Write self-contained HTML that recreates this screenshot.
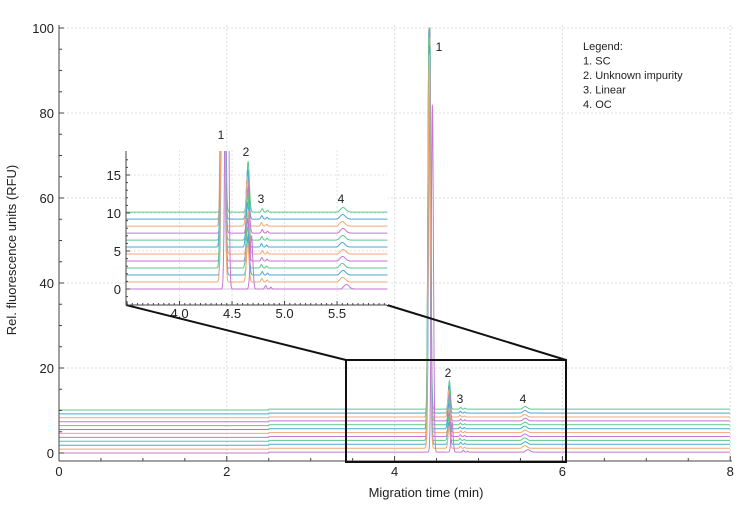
<!DOCTYPE html>
<html><head><meta charset="utf-8"><style>
body{margin:0;background:#fff;}
svg{display:block;font-family:"Liberation Sans",sans-serif;}
</style></head><body>
<svg id="s" width="750" height="506" viewBox="0 0 750 506"></svg>
<script>
const s=document.getElementById('s');
const cols=['#c576d6','#f2a878','#4aa8d8','#5cc98c'];
function sig(t,i){
  let sh=(i==0)?0.04:(i%3)*0.004;
  let off=i*0.92;
  let v=off;
  let h1=(i==0)?82:(92+(i%4));
  v+=h1*Math.exp(-Math.pow((t-4.41-sh)/0.018,2));
  let h2=(i==0)?7:(5+i*0.15);
  v+=h2*Math.exp(-Math.pow((t-4.645-sh)/0.017,2));
  v+=0.45*Math.exp(-Math.pow((t-4.78-sh)/0.012,2));
  v+=0.25*Math.exp(-Math.pow((t-4.83-sh)/0.01,2));
  v+=0.6*Math.exp(-Math.pow((t-5.55-sh)/0.035,2))*(t>5.52+sh?1:Math.exp(-Math.pow((t-5.52-sh)/0.02,2)));
  if(t>2.5) v+=0.2;
  return v;
}
let h='';
const mx=t=>59+t*83.9, my=v=>453-v*4.25;
for(let t=2;t<=8;t+=2)h+=`<line x1="${mx(t)}" y1="25" x2="${mx(t)}" y2="461" stroke="#ddd" stroke-dasharray="2,2"/>`;
for(let v=20;v<=100;v+=20)h+=`<line x1="59" y1="${my(v)}" x2="735" y2="${my(v)}" stroke="#ddd" stroke-dasharray="2,2"/>`;
for(let i=11;i>=0;i--){let p='';for(let t=0;t<=8;t+=0.003){p+=(p?'L':'M')+mx(t).toFixed(1)+','+my(Math.min(sig(t,i),100)).toFixed(1);}
h+=`<path d="${p}" fill="none" stroke="${cols[i%4]}" stroke-width="1"/>`;}
h+=`<line x1="59" y1="25" x2="59" y2="461" stroke="#444"/><line x1="59" y1="461" x2="732" y2="461" stroke="#444"/>`;
for(let t=0;t<=8;t+=0.5)h+=`<line x1="${mx(t)}" y1="461" x2="${mx(t)}" y2="${t%2==0?456:458}" stroke="#444"/>`;
for(let v=0;v<=100;v+=5)h+=`<line x1="59" y1="${my(v)}" x2="${v%20==0?64:62}" y2="${my(v)}" stroke="#444"/>`;
for(let t=0;t<=8;t+=2)h+=`<text x="${mx(t)}" y="476" font-size="13" text-anchor="middle" fill="#222">${t}</text>`;
for(let v=0;v<=100;v+=20)h+=`<text x="54" y="${my(v)+5}" font-size="13" text-anchor="end" fill="#222">${v}</text>`;
h+=`<text x="426" y="497" font-size="13" text-anchor="middle" fill="#222">Migration time (min)</text>`;
h+=`<text transform="translate(16,250) rotate(-90)" font-size="13" text-anchor="middle" fill="#222">Rel. fluorescence units (RFU)</text>`;
h+=`<rect x="346" y="360" width="220" height="102" fill="none" stroke="#111" stroke-width="2"/>`;
h+=`<line x1="126" y1="305" x2="346" y2="360" stroke="#111" stroke-width="2"/><line x1="387" y1="305" x2="566" y2="360" stroke="#111" stroke-width="2"/>`;
const ix=t=>126+(t-3.49)*105, iy=v=>289-v*7.6;
h+=`<rect x="126" y="150" width="262" height="155" fill="#fff"/>`;
for(let t=4;t<=5.5;t+=0.5)h+=`<line x1="${ix(t)}" y1="150" x2="${ix(t)}" y2="305" stroke="#e2e2e2" stroke-dasharray="2,2"/>`;
for(let v=0;v<=15;v+=5)h+=`<line x1="126" y1="${iy(v)}" x2="387" y2="${iy(v)}" stroke="#e2e2e2" stroke-dasharray="2,2"/>`;
h+=`<line x1="126" y1="${iy(0)}" x2="387" y2="${iy(0)}" stroke="#ccc"/>`;
h+=`<clipPath id="c"><rect x="126" y="151" width="262" height="154"/></clipPath><g clip-path="url(#c)">`;
for(let i=11;i>=0;i--){let p='';for(let t=3.49;t<=5.98;t+=0.002){p+=(p?'L':'M')+ix(t).toFixed(1)+','+iy(Math.min(sig(t,i)-0.2,30)).toFixed(1);}
h+=`<path d="${p}" fill="none" stroke="${cols[i%4]}" stroke-width="1"/>`;}
h+=`</g>`;
h+=`<line x1="126" y1="151" x2="126" y2="305" stroke="#444"/><line x1="126" y1="305" x2="387" y2="305" stroke="#444"/>`;
for(let t=3.5;t<=5.95;t+=0.05)h+=`<line x1="${ix(t)}" y1="305" x2="${ix(t)}" y2="${Math.abs(t*2-Math.round(t*2))<0.01?301:303}" stroke="#444"/>`;
for(let v=-2;v<=17;v+=1)h+=`<line x1="126" y1="${iy(v)}" x2="${v%5==0?130:128}" y2="${iy(v)}" stroke="#444"/>`;
for(let t of [4.0,4.5,5.0,5.5])h+=`<text x="${ix(t)}" y="318" font-size="13" text-anchor="middle" fill="#222">${t.toFixed(1)}</text>`;
for(let v=0;v<=15;v+=5)h+=`<text x="121" y="${iy(v)+5}" font-size="13" text-anchor="end" fill="#222">${v}</text>`;
const L=(x,y,t)=>`<text x="${x}" y="${y}" font-size="12" text-anchor="middle" fill="#222">${t}</text>`;
h+=L(221,139,'1')+L(246,156,'2')+L(261,203,'3')+L(341,203,'4');
h+=L(439,51,'1')+L(448,377,'2')+L(460,403,'3')+L(523,403,'4');
['Legend:','1. SC','2. Unknown impurity','3. Linear','4. OC'].forEach((t,k)=>h+=`<text x="583" y="${50+k*14.5}" font-size="11" fill="#222">${t}</text>`);
s.innerHTML=h;
</script>
</body></html>
